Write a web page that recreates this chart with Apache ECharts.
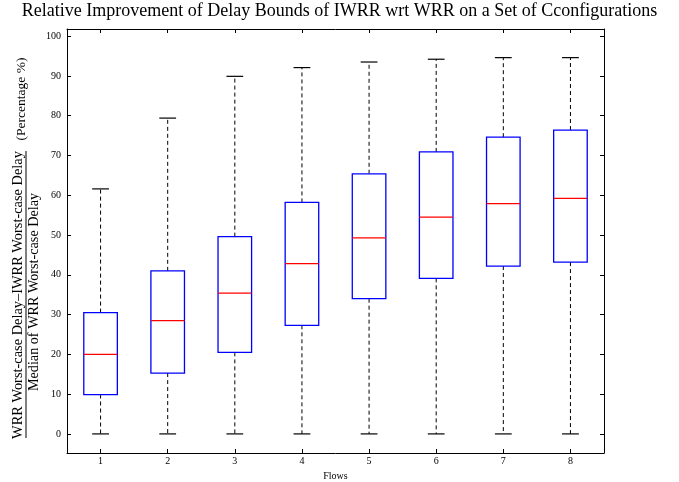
<!DOCTYPE html>
<html style="height: 100%">
<head>
    <meta charset="utf-8">
    <title>IWRR vs WRR</title>
    <script src="https://cdn.jsdelivr.net/npm/echarts@6/dist/echarts.min.js"></script>
</head>
<body style="height: 100%; margin: 0; background: #fff">
<div id="chart1" style="width:679px;height:482px"></div>
<script type="text/javascript">
    // 数据
    var flows = ['1', '2', '3', '4', '5', '6', '7', '8'];
    var whiskerLow = [0, 0, 0, 0, 0, 0, 0, 0];
    var q1 = [9.9, 15.3, 20.5, 27.3, 34.0, 39.1, 42.2, 43.2];
    var median = [20.0, 28.5, 35.4, 42.8, 49.3, 54.5, 57.9, 59.2];
    var q3 = [30.5, 41.0, 49.6, 58.2, 65.4, 70.9, 74.6, 76.4];
    var whiskerHigh = [61.6, 79.4, 89.9, 92.1, 93.5, 94.2, 94.6, 94.6];
    var yTicks = [0, 10, 20, 30, 40, 50, 60, 70, 80, 90, 100];

    var boxData = flows.map(function (f, i) {
        return [i, whiskerLow[i], q1[i], median[i], q3[i], whiskerHigh[i]];
    });

    var serif = '"Liberation Serif", "DejaVu Serif", serif';

    function renderBox(params, api) {
        var i = api.value(0);
        var band = api.size([1, 0])[0];
        var half = band * 0.25;
        var capHalf = band * 0.125;
        var pLow = api.coord([i, api.value(1)]);
        var pQ1 = api.coord([i, api.value(2)]);
        var pMed = api.coord([i, api.value(3)]);
        var pQ3 = api.coord([i, api.value(4)]);
        var pHigh = api.coord([i, api.value(5)]);
        var x = pMed[0];
        var dash = {stroke: '#000', lineWidth: 1, lineDash: [4, 3]};
        var solid = {stroke: '#000', lineWidth: 1.2};
        return {
            type: 'group',
            children: [
                {type: 'line', shape: {x1: x, y1: pQ1[1], x2: x, y2: pLow[1]}, style: dash},
                {type: 'line', shape: {x1: x, y1: pQ3[1], x2: x, y2: pHigh[1]}, style: dash},
                {type: 'line', shape: {x1: x - capHalf, y1: pLow[1], x2: x + capHalf, y2: pLow[1]}, style: solid},
                {type: 'line', shape: {x1: x - capHalf, y1: pHigh[1], x2: x + capHalf, y2: pHigh[1]}, style: solid},
                {
                    type: 'rect',
                    shape: {x: x - half, y: pQ3[1], width: half * 2, height: pQ1[1] - pQ3[1]},
                    style: {fill: '#fff', stroke: '#0000ff', lineWidth: 1.3}
                },
                {
                    type: 'line',
                    shape: {x1: x - half, y1: pMed[1], x2: x + half, y2: pMed[1]},
                    style: {stroke: '#ff0000', lineWidth: 1.3}
                }
            ]
        };
    }

    var myChart1 = echarts.init(document.getElementById('chart1'));

    var frameLine = {show: true, onZero: false, lineStyle: {color: '#000', width: 1}};

    myChart1.setOption({
        animation: false,
        backgroundColor: '#fff',
        title: {
            text: 'Relative Improvement of Delay Bounds of IWRR wrt WRR on a Set of Cconfigurations',
            left: 'center',
            top: -3,
            textStyle: {fontFamily: serif, fontSize: 18, fontWeight: 'normal', color: '#000'}
        },
        grid: {left: 67, right: 75, top: 29, bottom: 29, containLabel: false, outerBoundsMode: 'none'},
        xAxis: [
            {
                type: 'category',
                data: flows,
                position: 'bottom',
                name: 'Flows',
                nameLocation: 'middle',
                nameGap: 17,
                nameTextStyle: {fontFamily: serif, fontSize: 10, color: '#000'},
                axisLine: frameLine,
                axisTick: {show: true, inside: true, alignWithLabel: true, length: 4, lineStyle: {color: '#000'}},
                axisLabel: {fontFamily: serif, fontSize: 10, color: '#000', margin: 3},
                splitLine: {show: false}
            },
            {
                type: 'category',
                data: flows,
                position: 'top',
                axisLine: frameLine,
                axisTick: {show: true, inside: true, alignWithLabel: true, length: 4, lineStyle: {color: '#000'}},
                axisLabel: {show: false},
                splitLine: {show: false}
            }
        ],
        yAxis: [
            {
                type: 'value',
                min: -4.8,
                max: 101.8,
                position: 'left',
                axisLine: frameLine,
                axisTick: {show: true, inside: true, length: 4, customValues: yTicks, lineStyle: {color: '#000'}},
                axisLabel: {fontFamily: serif, fontSize: 10, color: '#000', margin: 6, customValues: yTicks},
                splitLine: {show: false}
            },
            {
                type: 'value',
                min: -4.8,
                max: 101.8,
                position: 'right',
                axisLine: frameLine,
                axisTick: {show: true, inside: true, length: 4, customValues: yTicks, lineStyle: {color: '#000'}},
                axisLabel: {show: false},
                splitLine: {show: false}
            }
        ],
        graphic: [
            {
                type: 'text',
                x: 18, y: 295, rotation: Math.PI / 2,
                style: {
                    text: 'WRR Worst-case Delay\u2013IWRR Worst-case Delay',
                    font: '14.4px ' + serif, fill: '#000',
                    align: 'center', verticalAlign: 'middle'
                }
            },
            {
                type: 'line',
                shape: {x1: 26, y1: 438, x2: 26, y2: 151},
                style: {stroke: '#000', lineWidth: 1}
            },
            {
                type: 'text',
                x: 34, y: 292, rotation: Math.PI / 2,
                style: {
                    text: 'Median of WRR Worst-case Delay',
                    font: '14.2px ' + serif, fill: '#000',
                    align: 'center', verticalAlign: 'middle'
                }
            },
            {
                type: 'text',
                x: 21, y: 99, rotation: Math.PI / 2,
                style: {
                    text: '(Percentage %)',
                    font: '13.5px ' + serif, fill: '#000',
                    align: 'center', verticalAlign: 'middle'
                }
            }
        ],
        series: [
            {
                type: 'custom',
                name: 'boxes',
                xAxisIndex: 0,
                yAxisIndex: 0,
                renderItem: renderBox,
                encode: {x: 0, y: [1, 2, 3, 4, 5]},
                data: boxData
            }
        ]
    });
</script>
</body>
</html>
